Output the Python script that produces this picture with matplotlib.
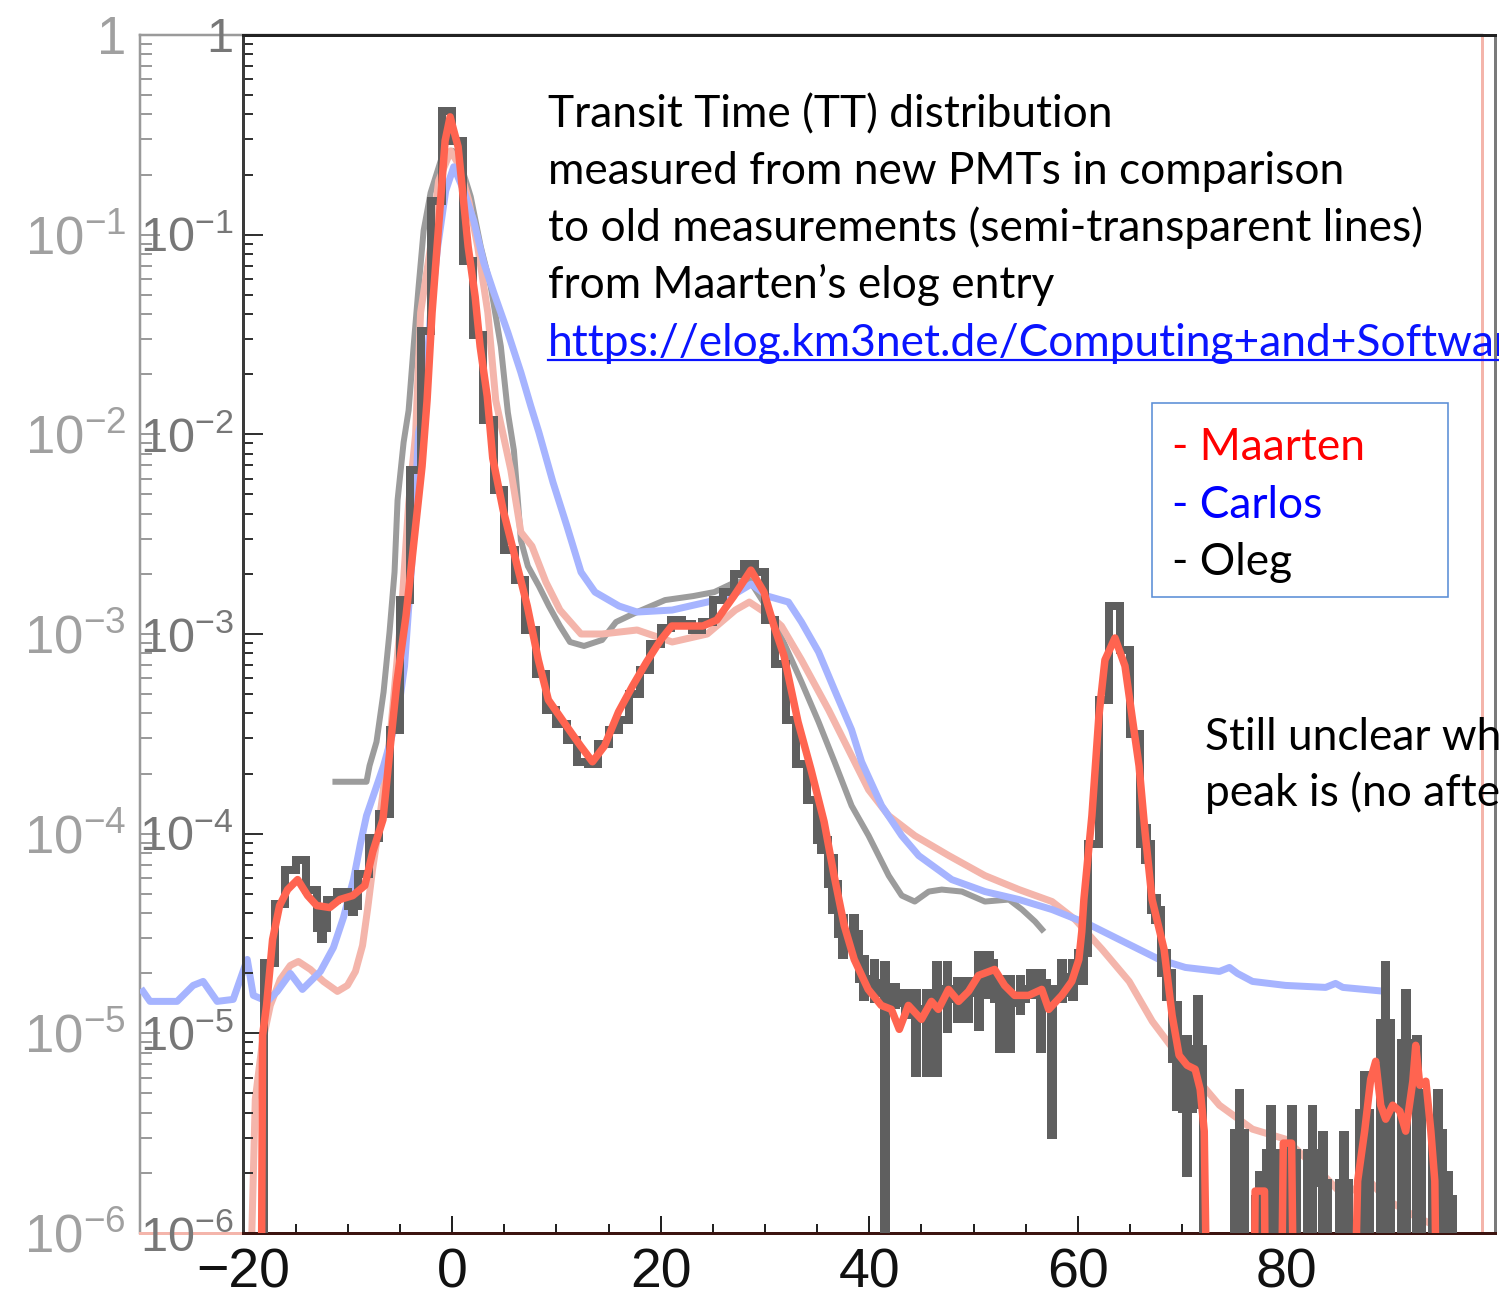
import numpy as np
import matplotlib
matplotlib.use("Agg")
import matplotlib.pyplot as plt
from matplotlib.lines import Line2D
from matplotlib.patches import Rectangle
from matplotlib.ticker import LogLocator, NullFormatter, MultipleLocator

# ---------------------------------------------------------------- data
# Oleg (new measurement): 1 ns bins, bin k spans [k, k+1], k = -18 .. 95 ; log10(probability)
oleg_bin_lo = -18
oleg_log10 = [
    -4.65, -4.35, -4.18, -4.13, -4.28, -4.47, -4.33, -4.29, -4.36, -4.2,
    -4.02, -3.9, -3.48, -2.83, -2.18, -1.48, -0.83, -0.38, -0.53, -1.13,
    -1.5, -1.93, -2.28, -2.58, -2.73, -2.98, -3.2, -3.38, -3.45, -3.53,
    -3.64, -3.65, -3.55, -3.48, -3.43, -3.3, -3.18, -3.05, -2.97, -2.93,
    -2.95, -2.98, -2.94, -2.83, -2.79, -2.7, -2.65, -2.69, -2.93, -3.15,
    -3.43, -3.65, -3.83, -4.03, -4.25, -4.5, -4.5, -4.73, -4.75, -4.8,
    -4.8, -4.85, -4.88, -4.88, -4.83, -4.78, -4.83, -4.8, -4.78, -4.65,
    -4.83, -4.85, -4.83, -4.78, -4.75, -4.83, -4.8, -4.72, -4.6, -4.05,
    -3.33, -2.86, -3.08, -3.5, -4.05, -4.38, -4.7, -5.13, -5.38, -5.08,
    None, None, None, -5.5, None, -5.83, -5.6, None, -5.6, None,
    -5.6, -5.75, None, -5.75, None, -5.4, None, -4.95, None, -5.05,
    -5.3, None, -5.5, -5.83]
# error-bar extent (log10) per bin, None where the error bar is hidden by the line
oleg_err_lo = [
    None, None, None, None, None, -4.55, None, None, -4.41, None,
    None, None, None, None, None, None, None, None, None, None,
    None, None, None, None, None, None, None, None, None, None,
    None, None, None, None, None, None, None, None, None, None,
    None, None, None, None, None, None, None, None, None, None,
    None, None, None, -4.1, -4.4, -4.63, -4.6, -4.84, -4.85, -6.5,
    -4.88, -4.93, -5.22, -5.22, -5.22, -5.0, -4.95, -4.95, -4.99, -4.83,
    -5.1, -5.1, -4.91, -4.83, -5.1, -5.53, -4.85, -4.84, -4.76, None,
    None, None, None, None, -4.15, -4.45, -4.84, -5.39, -5.72, -5.38,
    None, None, None, -6.5, None, -6.5, -6.5, None, -6.5, None,
    -6.5, -6.5, None, -6.5, None, -6.5, None, -6.5, None, -6.5,
    -6.5, None, -6.5, -6.5]
oleg_err_hi = [
    None, None, None, None, None, -4.38, None, None, -4.32, None,
    None, None, None, None, None, None, None, None, None, None,
    None, None, None, None, None, None, None, None, None, None,
    None, None, None, None, None, None, None, None, None, None,
    None, None, None, None, None, None, None, None, None, None,
    None, None, None, -3.95, -4.1, -4.4, -4.4, -4.61, -4.63, -4.64,
    -4.75, -4.78, -4.78, -4.78, -4.64, -4.64, -4.72, -4.72, -4.59, -4.59,
    -4.71, -4.71, -4.71, -4.68, -4.68, -4.76, -4.63, -4.63, -4.55, None,
    None, None, None, None, -3.95, -4.3, -4.58, -4.84, -5.01, -4.81,
    None, None, None, -5.28, None, -5.69, -5.36, None, -5.36, None,
    -5.36, -5.49, None, -5.49, None, -5.19, None, -4.64, None, -4.78,
    -5.01, None, -5.28, -5.69]

# Maarten (new measurement), time in ns and log10(probability); -6.5 = below the axis
maarten_t = [
    -18.3, -18.17, -17.79, -17.21, -16.54, -15.77, -14.81, -13.85, -12.98, -11.73,
    -10.77, -9.52, -8.37, -7.6, -6.63, -5.96, -5.29, -4.42, -3.56, -2.88,
    -2.4, -1.92, -1.44, -0.96, -0.67, -0.19, 0.58, 1.06, 1.54, 2.21,
    2.69, 3.37, 3.9, 4.9, 6.25, 7.21, 8.27, 9.23, 10.96, 12.31,
    13.46, 14.62, 15.96, 17.31, 18.65, 20.0, 21.06, 22.69, 24.04, 25.38,
    27.02, 28.65, 29.9, 30.87, 31.83, 33.17, 34.42, 35.67, 36.63, 37.6,
    38.56, 39.9, 41.15, 42.12, 42.88, 43.75, 45.0, 45.96, 46.63, 47.6,
    48.56, 49.52, 50.48, 52.02, 52.98, 53.94, 55.29, 56.54, 57.21, 58.46,
    59.42, 60.1, 60.38, 60.58, 61.35, 62.02, 62.6, 63.56, 64.52, 65.19,
    65.87, 66.44, 67.12, 68.27, 69.04, 69.71, 70.48, 71.25, 71.73, 72.12,
    72.4, 76.9, 77.0, 77.9, 78.0, 79.5, 79.7, 80.5, 80.7, 86.5,
    86.83, 87.5, 88.08, 88.56, 89.04, 89.52, 90.19, 90.87, 91.44, 92.12,
    92.4, 92.79, 93.37, 93.85, 94.23, 94.4, 99.9]
maarten_log10 = [
    -6.5, -5.01, -4.86, -4.53, -4.36, -4.28, -4.23, -4.31, -4.36, -4.37,
    -4.33, -4.31, -4.26, -4.09, -3.93, -3.58, -3.24, -2.91, -2.49, -2.16,
    -1.83, -1.39, -1.06, -0.73, -0.53, -0.41, -0.56, -0.81, -1.06, -1.31,
    -1.56, -1.81, -2.12, -2.38, -2.66, -2.86, -3.13, -3.33, -3.46, -3.56,
    -3.64, -3.56, -3.39, -3.26, -3.14, -3.03, -2.96, -2.96, -2.96, -2.93,
    -2.81, -2.68, -2.79, -2.96, -3.11, -3.44, -3.68, -3.94, -4.21, -4.46,
    -4.63, -4.78, -4.86, -4.88, -4.98, -4.86, -4.93, -4.84, -4.88, -4.78,
    -4.84, -4.79, -4.71, -4.68, -4.76, -4.81, -4.81, -4.78, -4.88, -4.81,
    -4.74, -4.63, -4.49, -4.33, -3.91, -3.41, -3.13, -3.02, -3.16, -3.41,
    -3.66, -3.99, -4.33, -4.58, -4.91, -5.11, -5.16, -5.18, -5.28, -5.49,
    -6.5, -6.5, -5.79, -5.79, -6.5, -6.5, -5.55, -5.55, -6.5, -6.5,
    -5.74, -5.49, -5.23, -5.14, -5.36, -5.43, -5.36, -5.39, -5.49, -5.24,
    -5.06, -5.26, -5.24, -5.49, -5.74, -6.5, -6.5]

# old measurements (semi-transparent lines)
old_carlos_t = [
    -29.71, -29.04, -26.44, -24.9, -23.94, -22.6, -21.06, -19.71, -19.13, -17.79,
    -16.83, -15.58, -14.42, -12.69, -11.44, -10.48, -9.52, -8.85, -8.27, -6.63,
    -5.29, -4.62, -3.94, -3.27, -2.79, -2.12, -1.44, -0.67, 0.1, 1.06,
    2.02, 2.98, 3.94, 5.29, 6.54, 7.5, 8.27, 9.62, 10.96, 12.31,
    13.65, 15.96, 17.69, 21.06, 24.42, 26.73, 28.65, 30.19, 32.21, 33.46,
    35.1, 36.63, 38.27, 39.23, 41.15, 43.08, 44.71, 47.88, 51.06, 54.33,
    57.5, 60.87, 63.94, 67.79, 70.29, 73.56, 74.52, 75.29, 76.73, 79.9,
    83.75, 84.7, 85.4, 89.52]
old_carlos_log10 = [
    -4.79, -4.84, -4.84, -4.76, -4.74, -4.84, -4.83, -4.63, -4.81, -4.84,
    -4.79, -4.7, -4.78, -4.69, -4.57, -4.42, -4.23, -4.05, -3.91, -3.66,
    -3.41, -3.16, -2.66, -1.99, -1.89, -1.39, -1.06, -0.78, -0.66, -0.78,
    -0.93, -1.14, -1.29, -1.49, -1.69, -1.86, -1.99, -2.24, -2.46, -2.69,
    -2.79, -2.86, -2.89, -2.88, -2.84, -2.81, -2.75, -2.81, -2.84, -2.94,
    -3.09, -3.28, -3.48, -3.64, -3.86, -4.01, -4.11, -4.23, -4.29, -4.33,
    -4.38, -4.45, -4.53, -4.63, -4.67, -4.69, -4.67, -4.7, -4.74, -4.76,
    -4.77, -4.75, -4.77, -4.79]

old_maarten_t = [
    -19.42, -18.94, -18.27, -17.5, -16.54, -15.58, -14.81, -13.65, -12.4, -11.06,
    -10.1, -9.33, -8.65, -8.17, -7.69, -7.21, -5.96, -4.9, -4.23, -3.56,
    -3.08, -2.12, -1.35, -0.19, 0.58, 1.54, 2.4, 3.37, 4.13, 5.58,
    6.54, 7.6, 8.94, 10.29, 12.31, 14.33, 17.69, 21.06, 24.42, 27.12,
    28.46, 30.48, 31.54, 33.46, 36.06, 37.98, 39.9, 41.83, 44.33, 47.6,
    51.06, 54.33, 57.5, 59.71, 62.31, 64.9, 67.12, 70.29, 73.56, 76.73,
    79.9, 83.17, 85.38, 87.98, 89.52, 92.12, 95.29, 96.5]
old_maarten_log10 = [
    -6.3, -5.33, -5.05, -4.86, -4.73, -4.66, -4.64, -4.68, -4.74, -4.79,
    -4.76, -4.69, -4.56, -4.38, -4.18, -4.01, -3.49, -2.88, -2.35, -2.0,
    -1.39, -1.06, -0.73, -0.58, -0.65, -0.83, -1.06, -1.39, -1.83, -2.18,
    -2.49, -2.56, -2.74, -2.88, -3.0, -3.0, -2.98, -3.04, -3.0, -2.88,
    -2.84, -2.91, -2.96, -3.13, -3.38, -3.58, -3.78, -3.91, -4.01, -4.11,
    -4.21, -4.28, -4.34, -4.43, -4.58, -4.74, -4.94, -5.16, -5.36, -5.48,
    -5.53, -5.69, -5.81, -5.74, -5.83, -5.91, -5.99, -6.3]

old_oleg_t = [
    -11.25, -8.27, -7.98, -7.31, -6.63, -6.06, -5.58, -5.29, -4.71, -4.23,
    -3.75, -3.27, -2.79, -2.12, -1.15, 0.0, 0.96, 1.73, 2.69, 3.65,
    4.62, 5.29, 5.87, 6.25, 6.54, 7.21, 8.27, 9.23, 10.29, 11.25,
    12.6, 14.33, 15.67, 17.69, 20.38, 23.08, 25.1, 27.12, 28.46, 30.29,
    31.83, 33.46, 35.1, 36.63, 38.27, 39.9, 41.83, 43.08, 44.33, 45.67,
    46.92, 48.85, 51.06, 53.37, 54.62, 55.87, 56.54]
old_oleg_log10 = [
    -3.74, -3.74, -3.66, -3.54, -3.29, -2.99, -2.69, -2.33, -2.04, -1.88,
    -1.56, -1.26, -0.98, -0.79, -0.63, -0.58, -0.68, -0.81, -1.06, -1.26,
    -1.56, -1.89, -2.08, -2.33, -2.53, -2.66, -2.76, -2.86, -2.96, -3.04,
    -3.06, -3.03, -2.94, -2.89, -2.83, -2.81, -2.79, -2.74, -2.73, -2.88,
    -3.05, -3.24, -3.44, -3.64, -3.86, -4.01, -4.21, -4.31, -4.34, -4.29,
    -4.28, -4.29, -4.34, -4.33, -4.38, -4.44, -4.48]

x_ticks = [-20, 0, 20, 40, 60, 80]
y_ticks = [1e-6, 1e-5, 1e-4, 1e-3, 1e-2, 1e-1, 1]
y_tick_labels = ['$10^{-6}$', '$10^{-5}$', '$10^{-4}$', '$10^{-3}$', '$10^{-2}$', '$10^{-1}$', '1']

text_lines = ["Transit Time (TT) distribution",
              "measured from new PMTs in comparison",
              "to old measurements (semi-transparent lines)",
              "from Maarten\u2019s elog entry"]
url_text = "https://elog.km3net.de/Computing+and+Softwar"
legend_entries = ["- Maarten", "- Carlos", "- Oleg"]
legend_colors = ["#ff0000", "#0000ff", "#000000"]
note_lines = ["Still unclear wh", "peak is (no afte"]

# ---------------------------------------------------------------- style
plt.rcParams['font.family'] = ['Liberation Sans', 'DejaVu Sans']
plt.rcParams['mathtext.fontset'] = 'custom'
plt.rcParams['mathtext.rm'] = 'Liberation Sans'
plt.rcParams['mathtext.it'] = 'Liberation Sans:italic'
plt.rcParams['mathtext.bf'] = 'Liberation Sans:bold'
plt.rcParams['mathtext.default'] = 'regular'

W, H, DPI = 1499, 1304, 100
PT = 72.0 / DPI          # points per pixel
fig = plt.figure(figsize=(W / DPI, H / DPI), dpi=DPI)
fig.patch.set_facecolor('white')


def rect(x0, y0, x1, y1):
    return [x0 / W, 1 - y1 / H, (x1 - x0) / W, (y1 - y0) / H]


C_OLEG = '#5f5f5f'
C_MAARTEN = '#ff6450'
C_OLD_BLUE = '#a6b4ff'
C_OLD_PINK = '#f4b5ab'
C_OLD_GREY = '#9c9c9c'

# back (old) frame and front (new) frame
ax_b = fig.add_axes(rect(140, 35, 1482, 1233))
ax = fig.add_axes(rect(243.5, 35, 1495, 1233))
ax.patch.set_alpha(0)

for a in (ax_b, ax):
    a.set_yscale('log')
    a.set_ylim(1e-6, 1)
ax_b.set_xlim(-30, 98.75)
ax.set_xlim(-20, 100)

# ---- back axes styling
for s in ('left', 'top'):
    ax_b.spines[s].set_color('#9a9a9a')
    ax_b.spines[s].set_linewidth(2.5 * PT)
ax_b.spines['bottom'].set_color(C_OLD_PINK)
ax_b.spines['bottom'].set_linewidth(3 * PT)
ax_b.spines['right'].set_color(C_OLD_PINK)
ax_b.spines['right'].set_linewidth(3 * PT)
ax_b.set_xticks([])
ax_b.set_yticks(y_ticks, y_tick_labels)
ax_b.yaxis.set_minor_locator(LogLocator(base=10, subs=np.arange(2, 10)))
ax_b.yaxis.set_minor_formatter(NullFormatter())
ax_b.tick_params(axis='y', which='major', direction='in', length=20 * PT, width=2 * PT,
                 color='#9a9a9a', labelcolor='#a0a0a0', labelsize=38, pad=14 * PT)
ax_b.tick_params(axis='y', which='minor', direction='in', length=12 * PT, width=2 * PT,
                 color='#9a9a9a')

# ---- front axes styling
ax.spines['left'].set_color('#3a3a3a')
ax.spines['top'].set_color('#222222')
ax.spines['right'].set_color('#7a7a7a')
ax.spines['bottom'].set_color('#3c1410')
for s in ax.spines.values():
    s.set_linewidth(3 * PT)
ax.set_xticks(x_ticks)
ax.xaxis.set_minor_locator(MultipleLocator(5))
ax.set_yticks(y_ticks, y_tick_labels)
ax.yaxis.set_minor_locator(LogLocator(base=10, subs=np.arange(2, 10)))
ax.yaxis.set_minor_formatter(NullFormatter())
ax.tick_params(axis='y', which='major', direction='in', length=20 * PT, width=2 * PT,
               color='#333333', labelcolor='#777777', labelsize=35, pad=10 * PT)
ax.tick_params(axis='y', which='minor', direction='in', length=10 * PT, width=2 * PT,
               color='#333333')
ax.tick_params(axis='x', which='major', direction='in', length=17 * PT, width=2 * PT,
               color='#222222', labelcolor='#111111', labelsize=40, pad=14 * PT)
ax.tick_params(axis='x', which='minor', direction='in', length=9 * PT, width=2 * PT,
               color='#222222')
ax.tick_params(top=False, right=False)

# ---- old curves (back axes)
ax_b.plot(old_oleg_t, 10 ** np.array(old_oleg_log10), color=C_OLD_GREY, lw=6 * PT, zorder=2)
ax_b.plot(old_maarten_t, 10 ** np.array(old_maarten_log10), color=C_OLD_PINK, lw=7 * PT, zorder=3)
ax_b.plot(old_carlos_t, 10 ** np.array(old_carlos_log10), color=C_OLD_BLUE, lw=7 * PT, zorder=4)

# ---- Oleg histogram with error bars
edges = np.arange(oleg_bin_lo, oleg_bin_lo + len(oleg_log10) + 1)
centers = edges[:-1] + 0.5
vals = np.array([10.0 ** v if v is not None else 1e-12 for v in oleg_log10])
ax.stairs(vals, edges, baseline=1e-12, color=C_OLEG, lw=8 * PT, zorder=3)
eb = [(c, lo, hi) for c, lo, hi in zip(centers, oleg_err_lo, oleg_err_hi) if lo is not None]
eb_c = np.array([e[0] for e in eb])
eb_lo = 10.0 ** np.array([e[1] for e in eb])
eb_hi = 10.0 ** np.array([e[2] for e in eb])
ax.bar(eb_c, eb_hi - eb_lo, bottom=eb_lo, width=0.95, color=C_OLEG, lw=0, zorder=3)

# ---- Maarten line
ax.plot(maarten_t, 10 ** np.array(maarten_log10), color=C_MAARTEN, lw=7.5 * PT, zorder=4,
        solid_joinstyle='round')

# ---------------------------------------------------------------- texts
txt_font = ['Lato', 'DejaVu Sans']
probe = fig.text(0, 0, text_lines[0], fontsize=30, family=txt_font)
fig.canvas.draw()
fs = 30 * 563.0 / probe.get_window_extent().width
probe.remove()

for i, line in enumerate(text_lines):
    fig.text(548 / W, 1 - (127 + 57 * i) / H, line, fontsize=fs, family=txt_font,
             color='black', va='baseline', ha='left', zorder=5)
fig.text(548 / W, 1 - 356 / H, url_text, fontsize=fs, family=txt_font,
         color='#0a14ff', va='baseline', ha='left', zorder=5)
fig.add_artist(Line2D([548 / W, 1.0], [1 - 360 / H, 1 - 360 / H], color='#0a14ff',
                      lw=2.2 * PT, transform=fig.transFigure, zorder=5))

# legend box
fig.add_artist(Rectangle((1152 / W, 1 - 597 / H), (1448 - 1152) / W, (597 - 403) / H,
                         transform=fig.transFigure, fill=False, ec='#5b8ed6',
                         lw=1.6 * PT, zorder=5))
for i, (lab, col) in enumerate(zip(legend_entries, legend_colors)):
    fig.text(1172 / W, 1 - (460 + 57.5 * i) / H, lab, fontsize=fs, family=txt_font,
             color=col, va='baseline', ha='left', zorder=6)

for i, line in enumerate(note_lines):
    fig.text(1205 / W, 1 - (750 + 56 * i) / H, line, fontsize=fs, family=txt_font,
             color='black', va='baseline', ha='left', zorder=6)

fig.savefig('out.png', dpi=DPI, facecolor='white')
